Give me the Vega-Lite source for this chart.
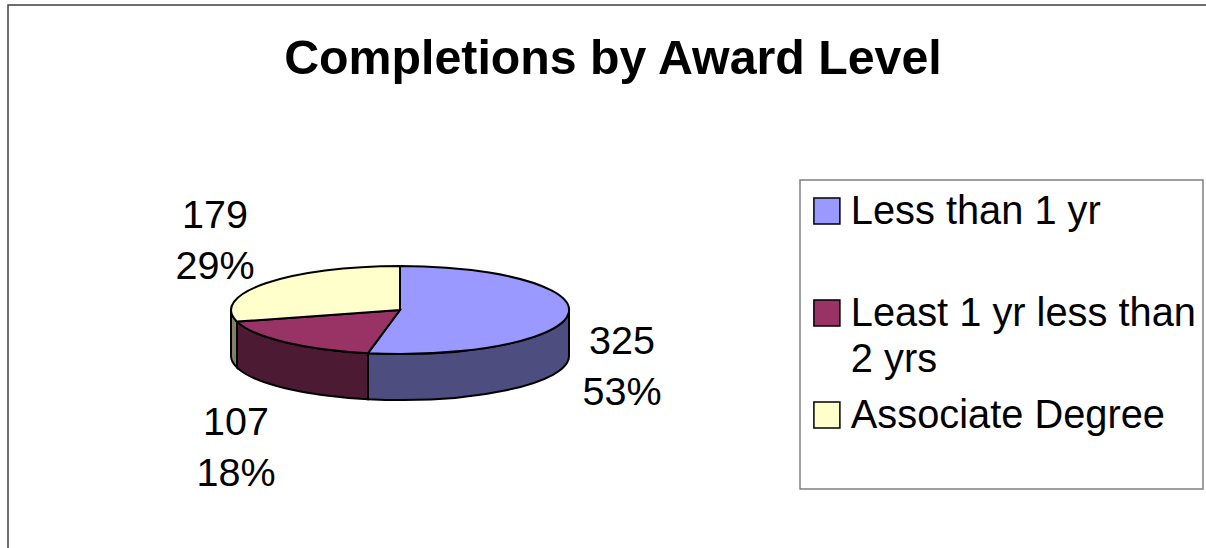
{
  "$schema": "https://vega.github.io/schema/vega-lite/v6.json",
  "width": 1210,
  "height": 560,
  "autosize": {"type": "none"},
  "padding": {"left": 8, "top": 5, "right": 0, "bottom": 0},
  "background": "white",
  "config": {
    "view": {"stroke": "#404040", "strokeWidth": 1.5, "fill": "white"},
    "font": "Liberation Sans",
    "legend": {"strokeWidth": 1.5, "strokeColor": "#808080"},
    "style": {"guide-label": {"lineHeight": 46}}
  },
  "title": {
    "text": "Completions by Award Level",
    "font": "Liberation Sans",
    "fontSize": 48.3,
    "fontWeight": "bold",
    "color": "black",
    "anchor": "middle",
    "baseline": "alphabetic",
    "offset": -117
  },
  "data": {
    "values": [
      {"level": "Less than 1 yr", "completions": 325, "share": "53%", "label": "325\n53%"},
      {"level": "Least 1 yr less than 2 yrs", "completions": 107, "share": "18%", "label": "107\n18%"},
      {"level": "Associate Degree", "completions": 179, "share": "29%", "label": "179\n29%"}
    ]
  },
  "encoding": {
    "x": {"datum": 0, "type": "quantitative", "axis": null, "scale": {"domain": [-392, 818]}},
    "y": {"datum": 0, "type": "quantitative", "axis": null, "scale": {"domain": [-255, 305]}}
  },
  "layer": [
    {
      "mark": {"type": "point", "filled": true, "opacity": 1, "stroke": "black", "strokeWidth": 2, "size": 4},
      "encoding": {
        "shape": {
          "field": "level",
          "type": "nominal",
          "legend": null,
          "scale": {
            "domain": ["Less than 1 yr", "Least 1 yr less than 2 yrs", "Associate Degree"],
            "range": [
              "M169,0A169,44,0,0,1,-32,43.2L-32,89.2A169,44,0,0,0,169,46Z",
              "M-32,43.2A169,44,0,0,1,-163,11.6L-163,57.6A169,44,0,0,0,-32,89.2Z",
              "M-163,11.6A169,44,0,0,1,-169,0L-169,46A169,44,0,0,0,-163,57.6Z"
            ]
          }
        },
        "color": {
          "field": "level",
          "type": "nominal",
          "legend": null,
          "scale": {
            "domain": ["Less than 1 yr", "Least 1 yr less than 2 yrs", "Associate Degree"],
            "range": ["#4D4D80", "#4D1A33", "#808066"]
          }
        }
      }
    },
    {
      "mark": {"type": "point", "filled": true, "opacity": 1, "stroke": "black", "strokeWidth": 2, "size": 4},
      "encoding": {
        "shape": {
          "field": "level",
          "type": "nominal",
          "legend": null,
          "scale": {
            "domain": ["Less than 1 yr", "Least 1 yr less than 2 yrs", "Associate Degree"],
            "range": [
              "M0,0L0,-44A169,44,0,1,1,-32,43.2Z",
              "M0,0L-32,43.2A169,44,0,0,1,-163,11.6Z",
              "M0,0L-163,11.6A169,44,0,0,1,0,-44Z"
            ]
          }
        },
        "color": {
          "field": "level",
          "type": "nominal",
          "legend": null,
          "scale": {
            "domain": ["Less than 1 yr", "Least 1 yr less than 2 yrs", "Associate Degree"],
            "range": ["#9999FF", "#993366", "#FFFFCC"]
          }
        }
      }
    },
    {
      "mark": {"type": "point", "filled": true, "opacity": 1, "size": 0},
      "encoding": {
        "color": {
          "field": "level",
          "type": "nominal",
          "scale": {
            "domain": ["Less than 1 yr", "Least 1 yr less than 2 yrs", "Associate Degree"],
            "range": ["#9999FF", "#993366", "#FFFFCC"]
          },
          "legend": {
            "title": "\u00a0\u00a0\u00a0\u00a0\u00a0\u00a0\u00a0\u00a0\u00a0\u00a0\u00a0\u00a0\u00a0\u00a0\u00a0\u00a0\u00a0\u00a0\u00a0\u00a0\u00a0\u00a0\u00a0\u00a0\u00a0\u00a0\u00a0\u00a0\u00a0\u00a0\u00a0\u00a0\u00a0\u00a0\u00a0\u00a0\u00a0\u00a0\u00a0\u00a0\u00a0\u00a0\u00a0\u00a0\u00a0\u00a0\u00a0\u00a0\u00a0\u00a0\u00a0\u00a0\u00a0\u00a0\u00a0\u00a0\u00a0\u00a0\u00a0\u00a0\u00a0\u00a0\u00a0\u00a0\u00a0\u00a0\u00a0\u00a0\u00a0\u00a0\u00a0\u00a0\u00a0\u00a0\u00a0\u00a0\u00a0\u00a0\u00a0\u00a0\u00a0\u00a0\u00a0\u00a0\u00a0\u00a0\u00a0\u00a0\u00a0\u00a0\u00a0\u00a0\u00a0\u00a0\u00a0\u00a0\u00a0\u00a0\u00a0\u00a0\u00a0\u00a0\u00a0\u00a0\u00a0\u00a0\u00a0\u00a0\u00a0\u00a0\u00a0\u00a0\u00a0\u00a0\u00a0\u00a0\u00a0\u00a0\u00a0\u00a0\u00a0",
            "titleFontSize": 12,
            "titlePadding": 5,
            "titleLimit": 1000,
            "orient": "none",
            "legendX": 792,
            "legendY": 175,
            "padding": 7,
            "fillColor": "white",
            "symbolType": "M-1,-2L1,-2L1,0L-1,0Z",
            "symbolSize": 676,
            "symbolStrokeColor": "black",
            "symbolStrokeWidth": 1.5,
            "symbolOpacity": 1,
            "labelFont": "Liberation Sans",
            "labelFontSize": 39.8,
            "labelColor": "black",
            "labelBaseline": "alphabetic",
            "labelOffset": 4,
            "labelLimit": 500,
            "gridAlign": "all",
            "rowPadding": 15,
            "labelExpr": "datum.label === 'Least 1 yr less than 2 yrs' ? ['Least 1 yr less than', '2 yrs'] : datum.label === 'Associate Degree' ? ['Associate Degree', ' '] : datum.label"
          }
        }
      }
    },
    {
      "transform": [{"filter": "datum.completions === 325"}],
      "mark": {"type": "text", "align": "center", "baseline": "alphabetic", "fontSize": 39.5, "lineBreak": "\n", "lineHeight": 51, "dx": 222, "dy": 44, "color": "black"},
      "encoding": {"text": {"field": "label", "type": "nominal"}}
    },
    {
      "transform": [{"filter": "datum.completions === 107"}],
      "mark": {"type": "text", "align": "center", "baseline": "alphabetic", "fontSize": 39.5, "lineBreak": "\n", "lineHeight": 51, "dx": -164, "dy": 125, "color": "black"},
      "encoding": {"text": {"field": "label", "type": "nominal"}}
    },
    {
      "transform": [{"filter": "datum.completions === 179"}],
      "mark": {"type": "text", "align": "center", "baseline": "alphabetic", "fontSize": 39.5, "lineBreak": "\n", "lineHeight": 51, "dx": -185, "dy": -82, "color": "black"},
      "encoding": {"text": {"field": "label", "type": "nominal"}}
    }
  ],
  "resolve": {"scale": {"color": "independent", "shape": "independent"}}
}
